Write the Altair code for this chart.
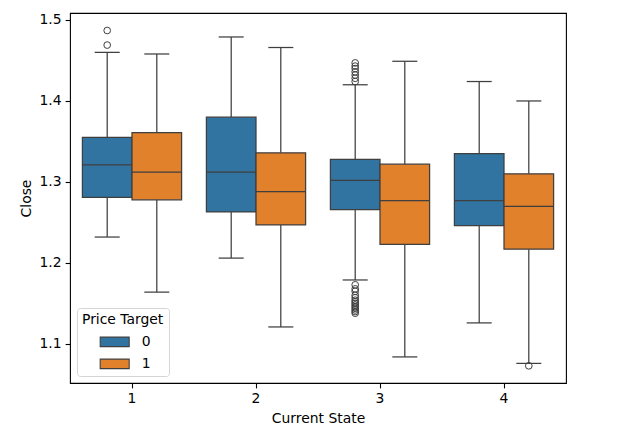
import altair as alt
import pandas as pd

states = ["1", "2", "3", "4"]
targets = ["0", "1"]

# summary stats per state, hue 0
q1_0 = [1.281, 1.263, 1.266, 1.246]
med_0 = [1.321, 1.312, 1.302, 1.277]
q3_0 = [1.355, 1.380, 1.328, 1.335]
wlo_0 = [1.232, 1.206, 1.179, 1.126]
whi_0 = [1.460, 1.479, 1.420, 1.424]
# hue 1
q1_1 = [1.278, 1.247, 1.223, 1.217]
med_1 = [1.312, 1.288, 1.277, 1.270]
q3_1 = [1.361, 1.336, 1.322, 1.310]
wlo_1 = [1.164, 1.121, 1.084, 1.076]
whi_1 = [1.458, 1.466, 1.449, 1.400]

out_state = ["1", "1"] + ["3"] * 7 + ["3"] * 14 + ["4"]
out_target = ["0", "0"] + ["0"] * 7 + ["0"] * 14 + ["1"]
out_value = [1.487, 1.469,
             1.447, 1.443, 1.440, 1.436, 1.432, 1.428, 1.424,
             1.173, 1.168, 1.165, 1.160, 1.157, 1.154, 1.152, 1.150,
             1.148, 1.146, 1.144, 1.142, 1.140, 1.138,
             1.073]

rows = []
for i, s in enumerate(states):
    rows.append(dict(state=s, target="0", q1=q1_0[i], med=med_0[i], q3=q3_0[i], wlo=wlo_0[i], whi=whi_0[i]))
    rows.append(dict(state=s, target="1", q1=q1_1[i], med=med_1[i], q3=q3_1[i], wlo=wlo_1[i], whi=whi_1[i]))
df = pd.DataFrame(rows)
odf = pd.DataFrame(dict(state=out_state, target=out_target, value=out_value))

LINE = "#3f3f3f"
FS = 13.9

ysc = alt.Scale(domain=[1.0518, 1.5086], nice=False, zero=False)
xenc = alt.X("state:N", title="Current State",
             scale=alt.Scale(paddingInner=0.2, paddingOuter=0.1),
             axis=alt.Axis(labelAngle=0))
xoff = alt.XOffset("target:N", scale=alt.Scale(paddingInner=0, paddingOuter=0))
yaxis = alt.Axis(values=[1.1, 1.2, 1.3, 1.4, 1.5], format=".1f")

base = alt.Chart(df)

wh_hi = base.mark_rule(color=LINE, strokeWidth=1.25).encode(
    x=xenc, xOffset=xoff, y=alt.Y("q3:Q", scale=ysc, title="Close", axis=yaxis), y2="whi:Q")
wh_lo = base.mark_rule(color=LINE, strokeWidth=1.25).encode(
    x=xenc, xOffset=xoff, y=alt.Y("wlo:Q", scale=ysc), y2="q1:Q")
boxes = base.mark_bar(stroke=LINE, strokeWidth=1.25, opacity=1).encode(
    x=xenc, xOffset=xoff, y=alt.Y("q1:Q", scale=ysc), y2="q3:Q",
    color=alt.Color("target:N", title="Price Target",
                    scale=alt.Scale(domain=targets, range=["#3274a1", "#e1812c"]),
                    legend=alt.Legend(orient="bottom-left", offset=7,
                                      symbolType="M-2.07,-0.68h4.14v1.36h-4.14z",
                                      symbolSize=196, symbolStrokeColor=LINE,
                                      symbolStrokeWidth=1.1, symbolOffset=24.7,
                                      fillColor="white", strokeColor="#d5d5d5",
                                      cornerRadius=3, padding=5,
                                      titleFontSize=FS, titleFontWeight="normal",
                                      titleFont="DejaVu Sans", titleColor="black",
                                      titlePadding=7, labelFontSize=FS,
                                      labelFont="DejaVu Sans", labelColor="black",
                                      rowPadding=7, labelOffset=19)))
medians = base.mark_tick(color=LINE, size=49.6, thickness=1.25, opacity=1).encode(
    x=xenc, xOffset=xoff, y=alt.Y("med:Q", scale=ysc))
cap_hi = base.mark_tick(color=LINE, size=25, thickness=1.25, opacity=1).encode(
    x=xenc, xOffset=xoff, y=alt.Y("whi:Q", scale=ysc))
cap_lo = base.mark_tick(color=LINE, size=25, thickness=1.25, opacity=1).encode(
    x=xenc, xOffset=xoff, y=alt.Y("wlo:Q", scale=ysc))
outl = alt.Chart(odf).mark_point(shape="circle", filled=False, size=45,
                                 stroke=LINE, strokeWidth=1, opacity=1).encode(
    x=xenc, xOffset=xoff, y=alt.Y("value:Q", scale=ysc))

chart = alt.layer(wh_hi, wh_lo, boxes, medians, cap_hi, cap_lo, outl).properties(
    width=496, height=370,
    autosize=alt.AutoSizeParams(type="none"),
    padding={"left": 62, "top": 5, "right": 44, "bottom": 46},
).configure_view(stroke="black", strokeWidth=1.1).configure_axis(
    grid=False, domain=False, tickColor="black", tickSize=4.9, tickWidth=1.1,
    labelFont="DejaVu Sans", labelFontSize=FS, labelColor="black", labelPadding=4,
    titleFont="DejaVu Sans", titleFontSize=FS, titleFontWeight="normal",
    titleColor="black", titlePadding=6,
)

chart.save("out.html", embed_options={"renderer": "svg", "actions": False})
